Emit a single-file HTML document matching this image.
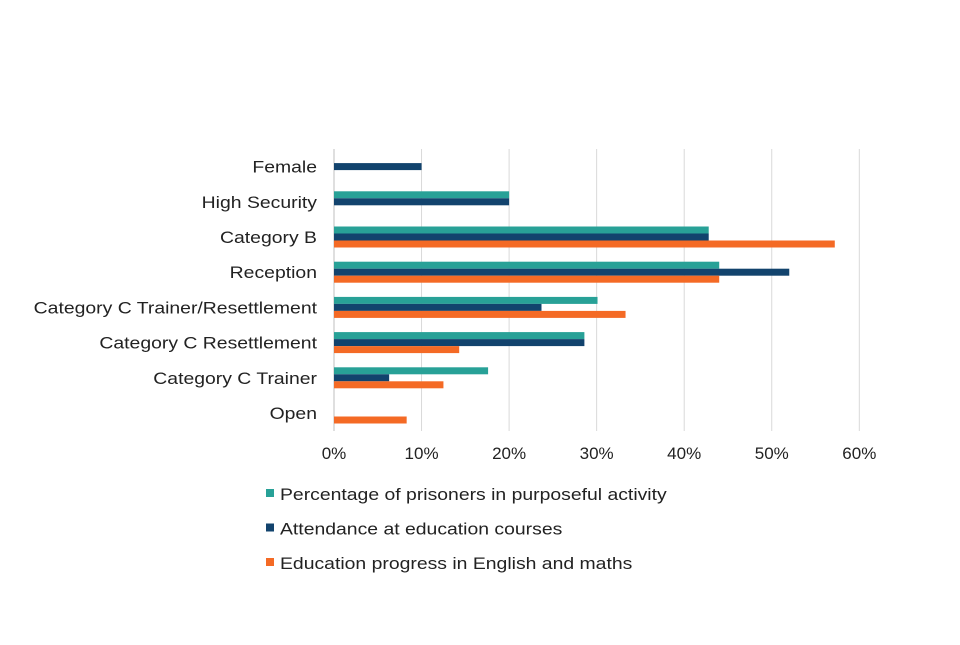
<!DOCTYPE html>
<html><head><meta charset="utf-8"><style>
body{margin:0;background:#fff;font-family:"Liberation Sans",Arial,sans-serif;}
svg text{font-family:"Liberation Sans",Arial,sans-serif;fill:#222;}
</style></head><body>
<svg id="chart" width="960" height="640"></svg>
<script>
const categories=["Female","High Security","Category B","Reception","Category C Trainer/Resettlement","Category C Resettlement","Category C Trainer","Open"];
const purposeful=[0,20,42.8,44,30.1,28.6,17.6,0];
const attendance=[10,20,42.8,52,23.7,28.6,6.3,0];
const progress=[0,0,57.2,44,33.3,14.3,12.5,8.3];
const ticks=[0,10,20,30,40,50,60];
const seriesNames=["Percentage of prisoners in purposeful activity","Attendance at education courses","Education progress in English and maths"];
const colors=["#28a197","#12436d","#f46a25"];
const NS="http://www.w3.org/2000/svg";
const svg=document.getElementById('chart');
const x0=334,pxPer=8.755,top0=149,band=35.2,bh=7;
const xs=v=>x0+v*pxPer;
function mk(t,a,p){const e=document.createElementNS(NS,t);for(const k in a)e.setAttribute(k,a[k]);(p||svg).appendChild(e);return e;}
function stretch(t,k){const w=t.getComputedTextLength();t.setAttribute('textLength',(w*k).toFixed(1));t.setAttribute('lengthAdjust','spacingAndGlyphs');}
ticks.forEach(t=>{
  const g=mk('line',{x1:xs(t),x2:xs(t),y1:149,y2:431,stroke:t===0?'#bfbfbf':'#d9d9d9','stroke-width':1});
  
  
  const l=mk('text',{x:xs(t),y:459,'text-anchor':'middle','font-size':17});
  l.textContent=t+'%';
  
  
});
const series=[purposeful,attendance,progress];
categories.forEach((c,i)=>{
  const cy=top0+band*i+band/2;
  const l=mk('text',{x:317,y:cy+6,'text-anchor':'end','font-size':17});
  l.textContent=c;
  
  
  stretch(l,1.14);
  series.forEach((s,j)=>{
    if(s[i]<=0)return;
    const r=mk('rect',{x:x0,y:cy-10.5+j*bh,width:xs(s[i])-x0,height:bh,fill:colors[j]});
    
    
  });
});
seriesNames.forEach((n,j)=>{
  const y=494+j*34.5;
  const r=mk('rect',{x:266,y:y-5,width:8,height:8,fill:colors[j]});
  
  
  const t=mk('text',{x:280,y:y+6,'font-size':17});
  t.textContent=n;
  
  
  stretch(t,1.14);
});
</script>
</body></html>
